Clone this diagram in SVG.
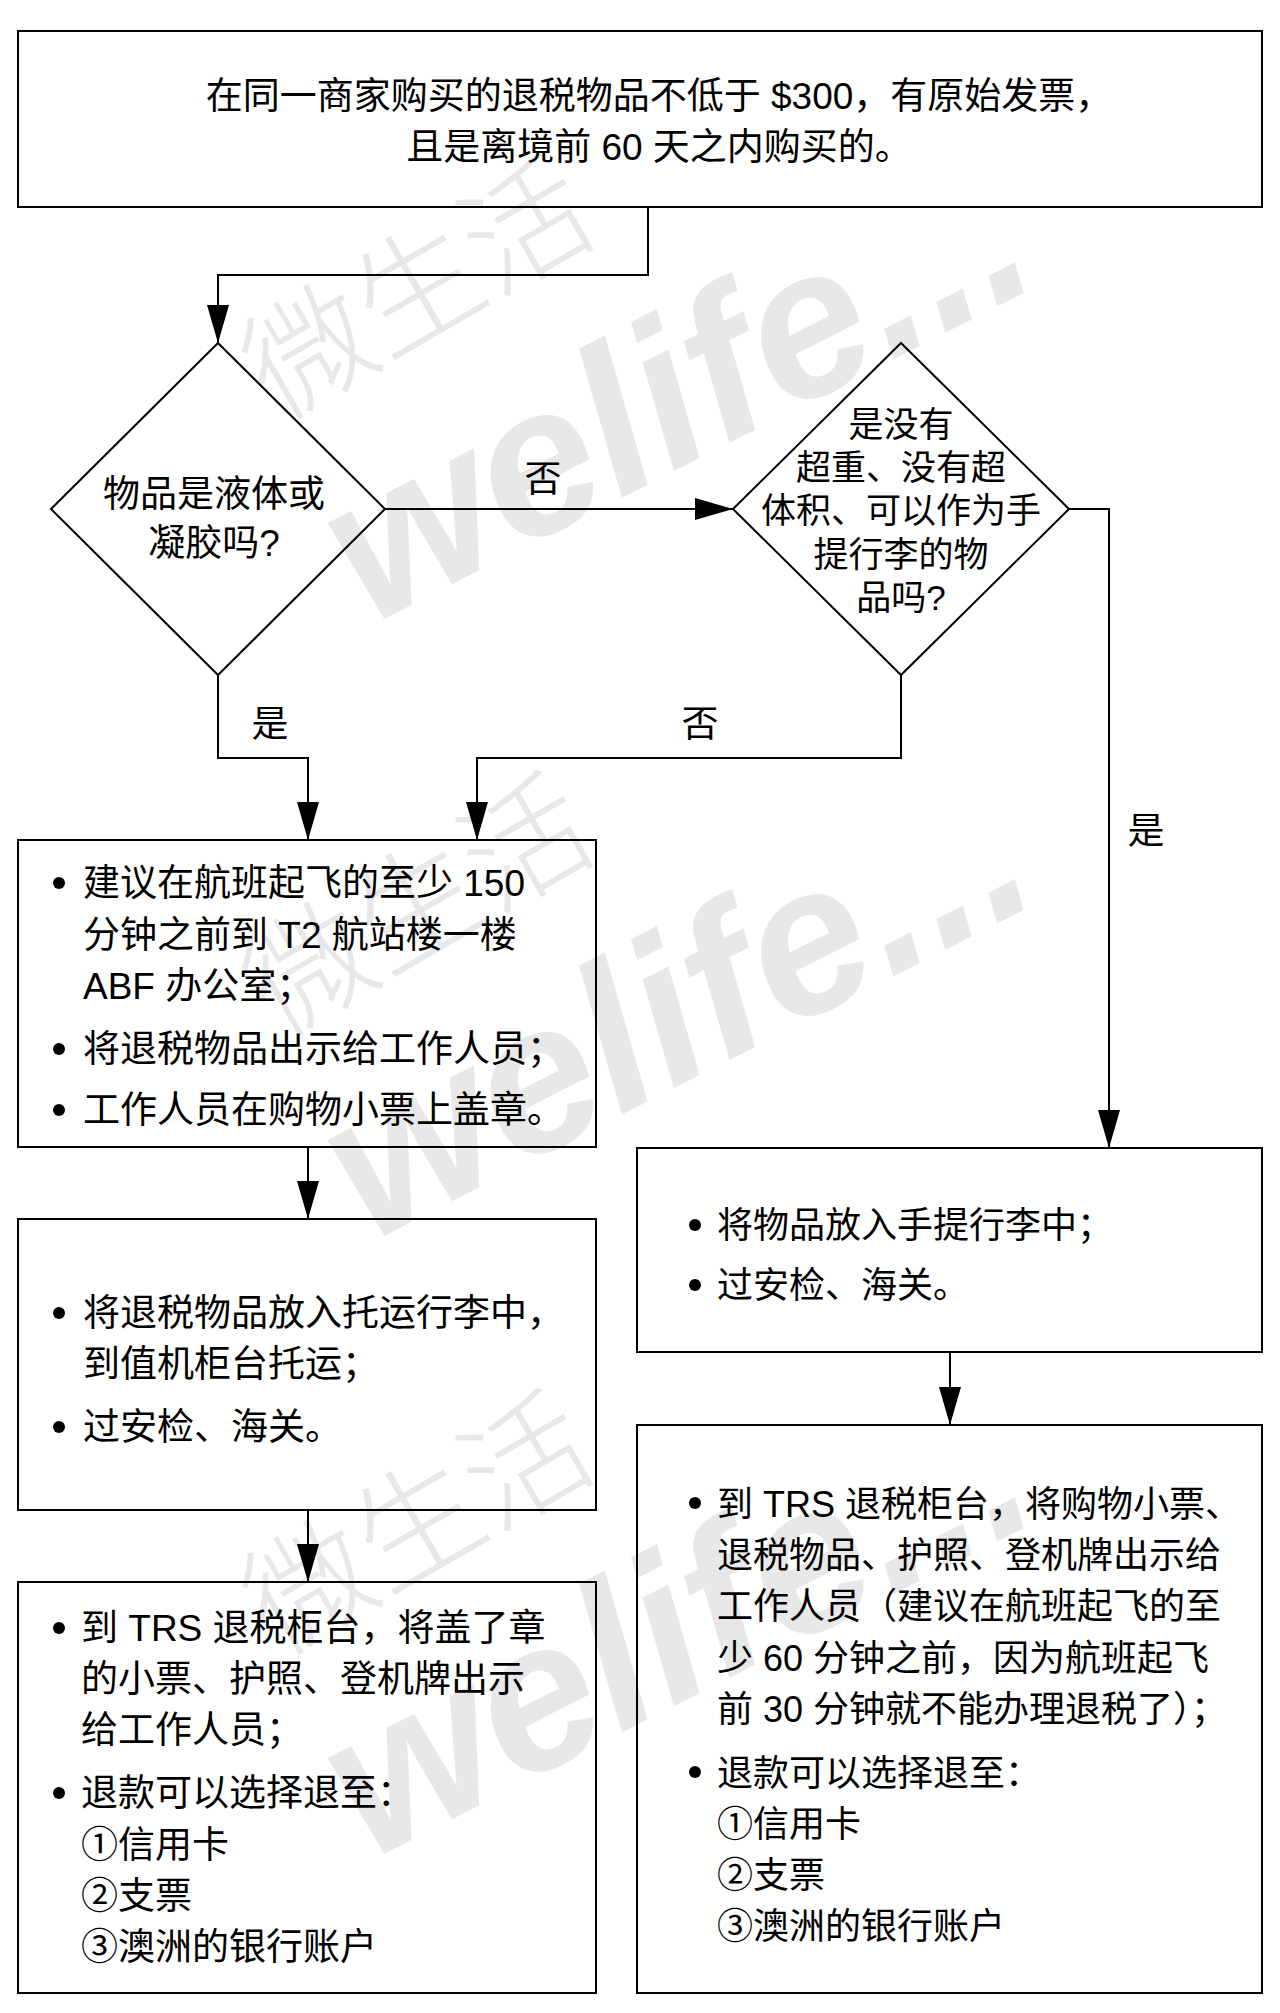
<svg xmlns="http://www.w3.org/2000/svg" width="1280" height="2013" viewBox="0 0 1280 2013">
<defs>
<style>
.box{fill:none;stroke:#000;stroke-width:2}
.conn{fill:none;stroke:#000;stroke-width:2}
.t{font-family:"Liberation Sans","Noto Sans CJK SC",sans-serif;font-size:37px;fill:#000}
.c{text-anchor:middle}
.d{font-size:35px}
.r{font-size:36px}
.b{fill:#000}
.wmen{font-family:"Liberation Sans",sans-serif;font-weight:bold;font-style:italic;font-size:210px;fill:#e8e8e8;text-anchor:end}
.wmcn{font-family:"Noto Sans CJK SC",sans-serif;font-weight:300;font-size:125px;fill:#e8e8e8;text-anchor:middle}
</style>
<marker id="arr" markerUnits="userSpaceOnUse" markerWidth="38" markerHeight="22" refX="38" refY="11" orient="auto">
<path d="M0,0 L38,11 L0,22 z" fill="#000"/>
</marker>
</defs>
<rect width="1280" height="2013" fill="#fff"/>
<g id="watermark">
<text class="wmcn" x="440" y="328" transform="rotate(-30 440 328)">微生活</text>
<text class="wmen" x="1045" y="282" transform="rotate(-27 1045 282)">welife...</text>
<text class="wmcn" x="440" y="945" transform="rotate(-30 440 945)">微生活</text>
<text class="wmen" x="1045" y="899" transform="rotate(-27 1045 899)">welife...</text>
<text class="wmcn" x="440" y="1563" transform="rotate(-30 440 1563)">微生活</text>
<text class="wmen" x="1045" y="1517" transform="rotate(-27 1045 1517)">welife...</text>
</g>
<g id="connectors">
<path class="conn" d="M648,207 V275 H218 V343" marker-end="url(#arr)"/>
<path class="conn" d="M385,509 H733" marker-end="url(#arr)"/>
<path class="conn" d="M1069,509 H1109 V1148" marker-end="url(#arr)"/>
<path class="conn" d="M218,675 V758 H308 V840" marker-end="url(#arr)"/>
<path class="conn" d="M901,675 V758 H477 V840" marker-end="url(#arr)"/>
<path class="conn" d="M308,1147 V1219" marker-end="url(#arr)"/>
<path class="conn" d="M308,1510 V1582" marker-end="url(#arr)"/>
<path class="conn" d="M950,1352 V1425" marker-end="url(#arr)"/>
<text class="t c" x="543" y="492">否</text>
<text class="t c" x="270" y="737">是</text>
<text class="t c" x="700" y="737">否</text>
<text class="t c" x="1146" y="844">是</text>
</g>
<g id="start">
<rect class="box" x="18" y="31" width="1244" height="176"/>
<text class="t c" x="659" y="109">在同一商家购买的退税物品不低于 $300，有原始发票，</text>
<text class="t c" x="659" y="160">且是离境前 60 天之内购买的。</text>
</g>
<g id="q1">
<polygon class="box" points="218,343 385,509 218,675 51,509"/>
<text class="t c" x="214" y="507">物品是液体或</text>
<text class="t c" x="214" y="556">凝胶吗?</text>
</g>
<g id="q2">
<polygon class="box" points="901,343 1069,509 901,675 733,509"/>
<text class="t c d" x="901" y="437">是没有</text>
<text class="t c d" x="901" y="480">超重、没有超</text>
<text class="t c d" x="901" y="523">体积、可以作为手</text>
<text class="t c d" x="901" y="567">提行李的物</text>
<text class="t c d" x="901" y="610">品吗?</text>
</g>
<g id="l1">
<rect class="box" x="18" y="840" width="578" height="307"/>
<circle class="b" cx="59" cy="883" r="6"/>
<circle class="b" cx="59" cy="1049" r="6"/>
<circle class="b" cx="59" cy="1110" r="6"/>
<text class="t" x="83" y="896">建议在航班起飞的至少 150</text>
<text class="t" x="83" y="948">分钟之前到 T2 航站楼一楼</text>
<text class="t" x="83" y="999">ABF 办公室；</text>
<text class="t" x="83" y="1062">将退税物品出示给工作人员；</text>
<text class="t" x="83" y="1123">工作人员在购物小票上盖章。</text>
</g>
<g id="l2">
<rect class="box" x="18" y="1219" width="578" height="291"/>
<circle class="b" cx="59" cy="1313" r="6"/>
<circle class="b" cx="59" cy="1427" r="6"/>
<text class="t" x="83" y="1326">将退税物品放入托运行李中，</text>
<text class="t" x="83" y="1377">到值机柜台托运；</text>
<text class="t" x="83" y="1440">过安检、海关。</text>
</g>
<g id="l3">
<rect class="box" x="18" y="1582" width="578" height="411"/>
<circle class="b" cx="59" cy="1628" r="6"/>
<circle class="b" cx="59" cy="1793" r="6"/>
<text class="t" x="81" y="1641">到 TRS 退税柜台，将盖了章</text>
<text class="t" x="81" y="1692">的小票、护照、登机牌出示</text>
<text class="t" x="81" y="1743">给工作人员；</text>
<text class="t" x="81" y="1806">退款可以选择退至：</text>
<text class="t" x="81" y="1858">①信用卡</text>
<text class="t" x="81" y="1909">②支票</text>
<text class="t" x="81" y="1960">③澳洲的银行账户</text>
</g>
<g id="r1">
<rect class="box" x="637" y="1148" width="625" height="204"/>
<circle class="b" cx="695" cy="1225" r="6"/>
<circle class="b" cx="695" cy="1285" r="6"/>
<text class="t r" x="717" y="1238">将物品放入手提行李中；</text>
<text class="t r" x="717" y="1298">过安检、海关。</text>
</g>
<g id="r2">
<rect class="box" x="637" y="1425" width="625" height="568"/>
<circle class="b" cx="695" cy="1503" r="6"/>
<circle class="b" cx="695" cy="1772" r="6"/>
<text class="t r" x="717" y="1517">到 TRS 退税柜台，将购物小票、</text>
<text class="t r" x="717" y="1568">退税物品、护照、登机牌出示给</text>
<text class="t r" x="717" y="1619">工作人员（建议在航班起飞的至</text>
<text class="t r" x="717" y="1671">少 60 分钟之前，因为航班起飞</text>
<text class="t r" x="717" y="1722">前 30 分钟就不能办理退税了）；</text>
<text class="t r" x="717" y="1786">退款可以选择退至：</text>
<text class="t r" x="717" y="1837">①信用卡</text>
<text class="t r" x="717" y="1888">②支票</text>
<text class="t r" x="717" y="1939">③澳洲的银行账户</text>
</g>
</svg>
